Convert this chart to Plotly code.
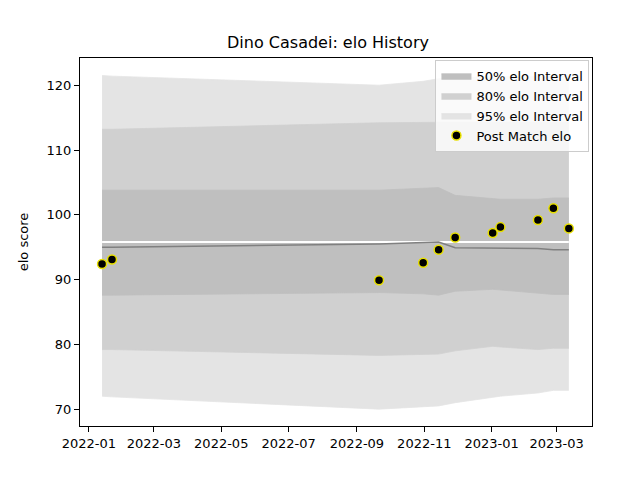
import plotly.graph_objects as go

dates = ["2022-01-13", "2022-01-22", "2022-09-21", "2022-10-31", "2022-11-14", "2022-11-29",
         "2023-01-02", "2023-01-09", "2023-02-12", "2023-02-26", "2023-03-12"]
post_elo = [92.4, 93.1, 89.9, 92.6, 94.6, 96.5, 97.2, 98.1, 99.2, 101.0, 97.9]

mean_elo = [95.0, 95.0, 95.5, 95.7, 95.8, 94.9, 94.9, 94.8, 94.8, 94.6, 94.6]
hi95 = [121.5, 121.4, 120.0, 120.6, 121.0, 121.2, 121.3, 121.3, 121.4, 121.4, 121.5]
lo95 = [72.0, 71.9, 70.0, 70.4, 70.5, 71.0, 71.8, 72.0, 72.5, 72.9, 72.9]
hi80 = [113.2, 113.2, 114.2, 114.3, 114.3, 114.3, 114.3, 114.3, 114.3, 114.3, 114.3]
lo80 = [79.2, 79.2, 78.3, 78.4, 78.5, 79.0, 79.7, 79.6, 79.2, 79.4, 79.4]
hi50 = [103.8, 103.8, 103.8, 104.1, 104.2, 103.0, 102.5, 102.4, 102.4, 102.6, 102.6]
lo50 = [87.6, 87.6, 88.0, 87.8, 87.6, 88.2, 88.5, 88.4, 87.9, 87.7, 87.7]
ref_line = [95.8] * len(dates)

fig = go.Figure()

def band(hi, lo, color, name, rank):
    fig.add_trace(go.Scatter(x=dates, y=hi, mode="lines", line=dict(width=0.8, color=color),
                             showlegend=False, hoverinfo="skip"))
    fig.add_trace(go.Scatter(x=dates, y=lo, mode="lines", line=dict(width=0.8, color=color),
                             fill="tonexty", fillcolor=color, name=name, legendrank=rank))

band(hi95, lo95, "#e4e4e4", "95% elo Interval", 3)
band(hi80, lo80, "#d0d0d0", "80% elo Interval", 2)
band(hi50, lo50, "#bfbfbf", "50% elo Interval", 1)

fig.add_trace(go.Scatter(x=dates, y=ref_line, mode="lines", line=dict(color="white", width=2),
                         showlegend=False))
fig.add_trace(go.Scatter(x=dates, y=mean_elo, mode="lines", line=dict(color="#808080", width=1.5),
                         showlegend=False))
fig.add_trace(go.Scatter(x=dates, y=post_elo, mode="markers", name="Post Match elo", legendrank=4,
                         marker=dict(color="black", size=9, line=dict(color="#e8e000", width=1.5))))

axis = dict(showgrid=False, zeroline=False, showline=True, mirror=True, linecolor="black",
            ticks="outside", tickcolor="black", tickfont=dict(size=13, color="black"))
fig.update_layout(
    width=640, height=480, plot_bgcolor="white", paper_bgcolor="white",
    font=dict(family="DejaVu Sans", color="black"),
    title=dict(text="Dino Casadei: elo History", x=0.5, y=0.94, font=dict(size=16)),
    margin=dict(l=72, r=56, t=50, b=62),
    legend=dict(x=0.995, y=0.995, xanchor="right", yanchor="top", bgcolor="rgba(255,255,255,0.8)",
                bordercolor="#cccccc", borderwidth=1, font=dict(size=13), traceorder="normal"),
    xaxis=dict(axis, range=["2021-12-24", "2023-04-02"], dtick="M2", tickformat="%Y-%m"),
    yaxis=dict(axis, range=[67.4, 124.2], dtick=10, title=dict(text="elo score", font=dict(size=13))),
)
fig.write_html("out.html")
